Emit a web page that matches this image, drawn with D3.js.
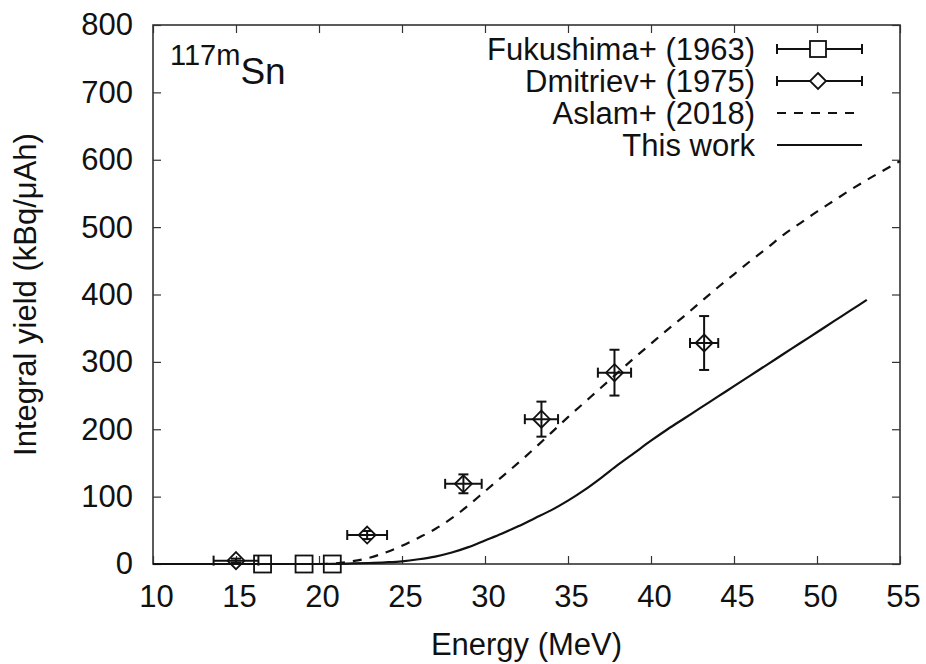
<!DOCTYPE html>
<html><head><meta charset="utf-8">
<script src="https://cdn.jsdelivr.net/npm/d3@7"></script>
<style>
body{margin:0;background:#fff;}
text{font-family:"Liberation Sans",Arial,Helvetica,sans-serif;fill:#111;}
</style></head>
<body><svg id="chart" width="926" height="664"></svg>
<script>
// ---- data ----
const xTicks = [10,15,20,25,30,35,40,45,50,55];
const yTicks = [0,100,200,300,400,500,600,700,800];

const fukE = [16.6, 19.1, 20.8];
const fukY = [0, 0, 0];

const dmiE = [15.0, 22.9, 28.7, 33.4, 37.8, 43.2];
const dmiY = [5, 43, 119, 215, 284, 328];
const dmiEerr = [1.35, 1.2, 1.1, 1.0, 1.0, 0.85];
const dmiYerr = [3, 6, 14, 26, 34, 40];

const aslamE = [20,21,22,23,24,25,26,27,28,29,30,31,32,33,34,35,36,37,38,39,40,41,42,43,44,45,46,47,48,49,50,51,52,53,54,55];
const aslamY = [0,1,4,9,17,27,39,52,68,87,108,129,150,172,195,218,240,262,284,306,327,348,368,389,410,430,450,469,489,506,523,539,555,570,584,598];

const workE = [10,12,14,16,18,20,21,22,23,24,25,26,27,28,29,30,31,32,33,34,35,36,37,38,39,40,41,42,43,44,45,46,47,48,49,50,51,52,53];
const workY = [0,0,0,0,0,0,0.3,0.8,1.5,2.5,4,7,11,17,25,35,45,56,68,80,94,110,128,147,165,183,200,216,232,248,264,280,296,312,328,344,360,376,392];

const legendLabels = ["Fukushima+ (1963)", "Dmitriev+ (1975)", "Aslam+ (2018)", "This work"];

// ---- chart ----
const svg = d3.select("#chart");
const L = 153, R = 900, T = 25, B = 564;
const x = d3.scaleLinear().domain([10,55]).range([L,R]);
const y = d3.scaleLinear().domain([0,800]).range([B,T]);
const FS = 31;

const axB = svg.append("g").attr("transform",`translate(0,${B})`)
  .call(d3.axisBottom(x).tickValues(xTicks).tickSizeInner(-8).tickSizeOuter(0).tickPadding(21));
const axL = svg.append("g").attr("transform",`translate(${L},0)`)
  .call(d3.axisLeft(y).tickValues(yTicks).tickSizeInner(-8).tickSizeOuter(0).tickPadding(20));
const axT = svg.append("g").attr("transform",`translate(0,${T})`)
  .call(d3.axisTop(x).tickValues(xTicks).tickSizeInner(-8).tickSizeOuter(0).tickFormat(""));
const axR = svg.append("g").attr("transform",`translate(${R},0)`)
  .call(d3.axisRight(y).tickValues(yTicks).tickSizeInner(-8).tickSizeOuter(0).tickFormat(""));
[axB,axL,axT,axR].forEach(g=>{
  g.select(".domain").remove();
  g.selectAll(".tick line").attr("stroke","#333").attr("stroke-width",1.2);
  g.selectAll(".tick text").attr("font-size",FS).attr("font-family","Liberation Sans, Arial, sans-serif").attr("fill","#111");
});
axB.selectAll(".tick text").attr("dx",3);

svg.append("rect").attr("x",L).attr("y",T).attr("width",R-L).attr("height",B-T)
  .attr("fill","none").attr("stroke","#333").attr("stroke-width",1.6);

// axis titles
svg.append("text").attr("x",(L+R)/2).attr("y",655).attr("text-anchor","middle")
  .attr("font-size",FS).text("Energy (MeV)");
svg.append("text").attr("transform",`translate(36,${(T+B)/2}) rotate(-90)`).attr("text-anchor","middle")
  .attr("font-size",FS).text("Integral yield (kBq/μAh)");

// nuclide label
const lab = svg.append("text").attr("x",170).attr("y",84);
lab.append("tspan").attr("font-size",29).attr("dy",-19).text("117m");
lab.append("tspan").attr("font-size",37).attr("dy",19).text("Sn");

// curves
const line = d3.line().x(d=>x(d[0])).y(d=>y(d[1])).curve(d3.curveMonotoneX);
svg.append("path").datum(aslamE.map((e,i)=>[e,aslamY[i]]))
  .attr("d",line).attr("fill","none").attr("stroke","#111").attr("stroke-width",2.2)
  .attr("stroke-dasharray","9,8");
svg.append("path").datum(workE.map((e,i)=>[e,workY[i]]))
  .attr("d",line).attr("fill","none").attr("stroke","#111").attr("stroke-width",2.2);

// error bars helper
function errBars(g, cx, cy, ex0, ex1, ey0, ey1){
  const cap = 5;
  g.append("line").attr("x1",ex0).attr("x2",ex1).attr("y1",cy).attr("y2",cy);
  g.append("line").attr("x1",ex0).attr("x2",ex0).attr("y1",cy-cap).attr("y2",cy+cap);
  g.append("line").attr("x1",ex1).attr("x2",ex1).attr("y1",cy-cap).attr("y2",cy+cap);
  if (ey0 !== null){
    g.append("line").attr("x1",cx).attr("x2",cx).attr("y1",ey0).attr("y2",ey1);
    g.append("line").attr("x1",cx-cap).attr("x2",cx+cap).attr("y1",ey0).attr("y2",ey0);
    g.append("line").attr("x1",cx-cap).attr("x2",cx+cap).attr("y1",ey1).attr("y2",ey1);
  }
}
const diamond = (cx,cy,s)=>`M${cx},${cy-s}L${cx+s},${cy}L${cx},${cy+s}L${cx-s},${cy}Z`;

// Dmitriev
const gD = svg.append("g").attr("stroke","#111").attr("stroke-width",2).attr("fill","none");
dmiE.forEach((e,i)=>{
  const cx = x(e), cy = y(dmiY[i]);
  errBars(gD, cx, cy, x(e-dmiEerr[i]), x(e+dmiEerr[i]), y(dmiY[i]+dmiYerr[i]), y(dmiY[i]-dmiYerr[i]));
  gD.append("path").attr("d",diamond(cx,cy,8.5)).attr("stroke-width",1.8);
});

// Fukushima
const gF = svg.append("g").attr("stroke","#111").attr("stroke-width",1.8).attr("fill","none");
fukE.forEach((e,i)=>{
  const cx = x(e), cy = y(fukY[i]);
  gF.append("rect").attr("x",cx-8.5).attr("y",cy-8.5).attr("width",17).attr("height",17);
});

// legend
const lx0 = 777, lx1 = 862, lm = 818, rowY = [49,81,113,145];
const gL = svg.append("g");
legendLabels.forEach((t,i)=>{
  gL.append("text").attr("x",755).attr("y",rowY[i]).attr("dy","0.35em")
    .attr("text-anchor","end").attr("font-size",FS).text(t);
});
const gLs = gL.append("g").attr("stroke","#111").attr("stroke-width",2).attr("fill","none");
errBars(gLs, lm, rowY[0], lx0, lx1, null, null);
gLs.append("rect").attr("x",lm-8).attr("y",rowY[0]-8).attr("width",16).attr("height",16).attr("fill","#fff").attr("stroke-width",1.8);
errBars(gLs, lm, rowY[1], lx0, lx1, null, null);
gLs.append("path").attr("d",diamond(lm,rowY[1],8)).attr("fill","#fff").attr("stroke-width",1.8);
gLs.append("line").attr("x1",lx0).attr("x2",lx1).attr("y1",rowY[2]).attr("y2",rowY[2]).attr("stroke-dasharray","9,8").attr("stroke-width",2.2);
gLs.append("line").attr("x1",lx0).attr("x2",lx1).attr("y1",rowY[3]).attr("y2",rowY[3]).attr("stroke-width",2.2);
</script>
</body></html>
